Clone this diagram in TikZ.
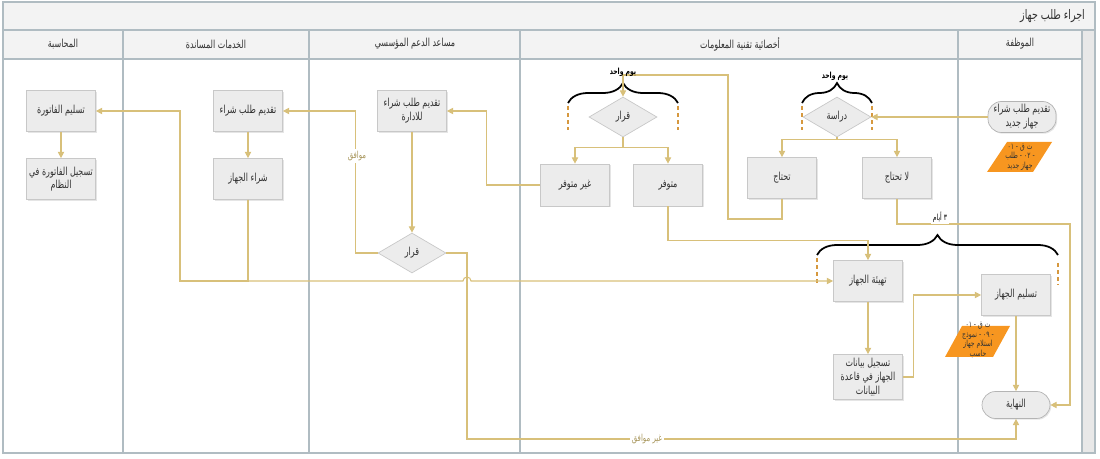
\documentclass[tikz,border=0pt]{standalone}
\usepackage{fontspec}
\usepackage{tikz}
\newfontfamily\arabicfont[Script=Arabic, FakeStretch=0.72]{DejaVu Sans}
\TeXXeTstate=1
\usetikzlibrary{positioning, arrows.meta, shapes.geometric, shadows, decorations.pathreplacing}
\newcommand{\arb}[1]{\beginR #1\endR}

\definecolor{laneline}{RGB}{176,188,194}
\definecolor{flow}{RGB}{216,192,122}
\definecolor{flowtext}{RGB}{168,150,92}
\definecolor{boxfill}{RGB}{236,236,236}
\definecolor{boxline}{RGB}{200,200,200}
\definecolor{docfill}{RGB}{247,150,32}
\definecolor{spanline}{RGB}{214,152,62}
\definecolor{headfill}{RGB}{243,243,243}
\definecolor{stripfill}{RGB}{232,232,232}
\definecolor{inktext}{RGB}{50,50,50}

\tikzset{
	stepbox/.style={draw=boxline, fill=boxfill, minimum width=1.38cm, minimum height=0.82cm, align=center, inner sep=1pt,
		font=\arabicfont\fontsize{6.3}{7.8}\selectfont, text=inktext, drop shadow={shadow xshift=0.7pt, shadow yshift=-0.7pt, fill=black!20}},
	choice/.style={diamond, draw=boxline, fill=boxfill, minimum width=1.36cm, minimum height=0.8cm, inner sep=0pt,
		font=\arabicfont\fontsize{6.3}{7.8}\selectfont, text=inktext},
	endbox/.style={draw=boxline!90!black, fill=boxfill, rounded corners=0.27cm, minimum width=1.36cm, minimum height=0.62cm, align=center, inner sep=1pt,
		font=\arabicfont\fontsize{6.3}{7.8}\selectfont, text=inktext, drop shadow={shadow xshift=0.7pt, shadow yshift=-0.7pt, fill=black!20}},
	docshape/.style={fill=docfill},
	doctext/.style={align=center, inner sep=0pt, font=\arabicfont\fontsize{4.8}{5.4}\selectfont, text=inktext},
	lanehead/.style={font=\arabicfont\fontsize{6.3}{7}\selectfont, text=inktext},
	spanlabel/.style={font=\arabicfont\bfseries\fontsize{4.8}{5}\selectfont, inner sep=1pt},
	flowlabel/.style={font=\arabicfont\fontsize{5.5}{6}\selectfont, text=flowtext, inner sep=1pt, fill=white},
	flowline/.style={draw=flow, line width=0.6pt, -{Triangle[width=3.6pt,length=3.6pt]}},
	spanbrace/.style={decorate, decoration={brace, amplitude=0.4cm}, line width=1pt},
	spandash/.style={draw=spanline, line width=0.8pt, dash pattern=on 2.5pt off 1.5pt},
	lanefence/.style={draw=laneline, line width=0.9pt}
}

\begin{document}
\begin{tikzpicture}[x=0.02cm, y=-0.02cm]
	\useasboundingbox (0,0) rectangle (1100,459);
	% lanes
	\fill[headfill] (3,2) rectangle (1095,59);
	\fill[stripfill] (1082,30) rectangle (1095,453);
	\draw[lanefence] (3,2) rectangle (1095,453);
	\draw[lanefence] (3,30) -- (1095,30);
	\draw[lanefence] (3,59) -- (1082,59);
	\foreach \x in {123,309,520,958,1082}
		\draw[lanefence] (\x,30) -- (\x,453);
	\node[lanehead, anchor=east, font=\arabicfont\fontsize{7.5}{8}\selectfont] (title) at (1091,16) {\arb{اجراء طلب جهاز}};
	\node[lanehead] (accounts) at (63,44) {\arb{المحاسبة}};
	\node[lanehead] (services) at (216,44) {\arb{الخدمات المساندة}};
	\node[lanehead] (support) at (415,44) {\arb{مساعد الدعم المؤسسي}};
	\node[lanehead] (itlane) at (740,44) {\arb{أخصائية تقنية المعلومات}};
	\node[lanehead] (staff) at (1020,44) {\arb{الموظفة}};

	% steps
	\node[stepbox] (fatura) at (61,111) {\arb{تسليم الفاتورة}};
	\node[stepbox] (fatsys) at (61,179) {\arb{تسجيل الفاتورة في}\\\arb{النظام}};
	\node[stepbox] (talab) at (248,111) {\arb{تقديم طلب شراء}};
	\node[stepbox] (shira) at (248,179) {\arb{شراء الجهاز}};
	\node[stepbox] (idara) at (412,111) {\arb{تقديم طلب شراء}\\\arb{للادارة}};
	\node[choice] (qarar2) at (412,253) {\arb{قرار}};
	\node[choice] (qarar) at (623,117) {\arb{قرار}};
	\node[stepbox, minimum height=0.84cm] (ghair) at (575,185) {\arb{غير متوفر}};
	\node[stepbox, minimum height=0.84cm] (mutawaffir) at (668,185) {\arb{متوفر}};
	\node[choice] (dirasa) at (837,117) {\arb{دراسة}};
	\node[stepbox] (tahtaj) at (782,178) {\arb{تحتاج}};
	\node[stepbox] (latahtaj) at (897,178) {\arb{لا تحتاج}};
	\node[endbox] (req) at (1022,117) {\arb{تقديم طلب شراء}\\\arb{جهاز جديد}};
	\fill[docshape] (1007,142) -- (1052,142) -- (1033,172) -- (987,172) -- cycle;
	\node[doctext] (form1) at (1020,157) {\arb{ت ق - ٠١}\\\arb{- ٠٢ - طلب}\\\arb{جهاز جديد}};
	\node[stepbox] (tahyia) at (868,281) {\arb{تهيئة الجهاز}};
	\node[stepbox, minimum height=0.9cm] (tasjil) at (868,377) {\arb{تسجيل بيانات}\\\arb{الجهاز في قاعدة}\\\arb{البيانات}};
	\node[stepbox] (taslim) at (1016,295) {\arb{تسليم الجهاز}};
	\fill[docshape] (962,326) -- (1010,326) -- (993,357) -- (945,357) -- cycle;
	\node[doctext] (form2) at (978,340) {\arb{ت ق - ٠١}\\\arb{- ٠٩ - نموذج}\\\arb{استلام جهاز}\\\arb{حاسب}};
	\node[endbox, minimum height=0.54cm] (nihaya) at (1016,405) {\arb{النهاية}};

	% time spans
	\draw[spanbrace] (568,103) -- (678,103);
	\draw[spandash] (568,106) -- (568,130);
	\draw[spandash] (678,106) -- (678,130);
	\draw[spanbrace] (802,103) -- (872,103);
	\draw[spandash] (802,106) -- (802,130);
	\draw[spandash] (872,106) -- (872,130);
	\draw[spanbrace] (817,255) -- (1058,255);
	\draw[spandash] (817,258) -- (817,285);
	\draw[spandash] (1058,263) -- (1058,285);

	% connectors
	\draw[flowline] (req.west) -- (dirasa.east);
	\draw[flowline] (dirasa.south) -- ++(0,2) -| (tahtaj.north);
	\draw[flowline] (dirasa.south) -- ++(0,2) -| (latahtaj.north);
	\draw[flowline] (latahtaj.south) |- (1070,224) |- (nihaya.east);
	\draw[flowline] (tahtaj.south) |- (728,219) |- (623,75) -- (qarar.north);
	\draw[flowline] (qarar.south) -- ++(0,10) -| (ghair.north);
	\draw[flowline] (qarar.south) -- ++(0,10) -| (mutawaffir.north);
	\draw[flowline] (ghair.west) -- ++(-54,0) |- (idara.east);
	\draw[flowline] (mutawaffir.south) -- ++(0,34) -| (tahyia.north);
	\draw[flowline] (idara.south) -- (qarar2.north);
	\draw[flowline] (qarar2.west) -- ++(-22,0) |- (talab.east);
	\draw[flowline] (qarar2.east) -| (467,439) -| (nihaya.south);
	\draw[flowline] (talab.south) -- (shira.north);
	\draw[flowline] (shira.south) |- (463,281) arc[start angle=180, end angle=360, radius=4] -- (tahyia.west);
	\draw[flowline] (shira.south) |- (180,281) |- (fatura.east);
	\draw[flowline] (fatura.south) -- (fatsys.north);
	\draw[flowline] (tahyia.south) -- (tasjil.north);
	\draw[flowline] (tasjil.east) -- ++(11,0) |- (taslim.west);
	\draw[flowline] (taslim.south) -- (nihaya.north);

	% labels
	\node[spanlabel] (oneday1) at (623,72) {\arb{يوم واحد}};
	\node[spanlabel] (oneday2) at (835,76) {\arb{يوم واحد}};
	\node[spanlabel, font=\arabicfont\fontsize{4.8}{5}\selectfont, fill=white] (threedays) at (940,217) {\arb{٣ أيام}};
	\node[flowlabel] (yes) at (357,156) {\arb{موافق}};
	\node[flowlabel] (no) at (647,439) {\arb{غير موافق}};
\end{tikzpicture}
\end{document}
